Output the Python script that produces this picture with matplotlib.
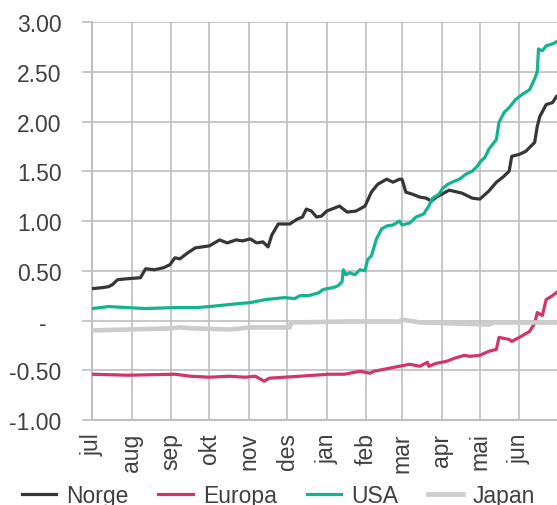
import numpy as np
import pandas as pd
import matplotlib
matplotlib.use('Agg')
import matplotlib.pyplot as plt
import matplotlib.dates as mdates
from matplotlib.transforms import ScaledTranslation

# days counted from 1 July
start = pd.Timestamp('2022-07-01')

norge_day = [0, 8, 13, 16, 20, 28, 38, 42, 49, 56, 61, 65, 69, 75, 81, 92, 100, 106, 113, 118,
             124, 129, 134, 138, 141, 146, 151, 155, 161, 165, 168, 172, 176, 180, 184, 194, 200,
             207, 214, 219, 224, 231, 236, 241, 243, 246, 251, 257, 262, 266, 270, 280, 290, 298,
             304, 311, 317, 322, 327, 329, 335, 340, 347, 349, 351, 356, 361, 364]
norge = [0.32, 0.33, 0.34, 0.36, 0.41, 0.42, 0.43, 0.52, 0.51, 0.53, 0.56, 0.63, 0.62, 0.68, 0.73,
         0.75, 0.81, 0.78, 0.81, 0.80, 0.82, 0.78, 0.79, 0.74, 0.86, 0.97, 0.97, 0.97, 1.02, 1.04,
         1.12, 1.10, 1.04, 1.05, 1.10, 1.15, 1.09, 1.10, 1.15, 1.29, 1.37, 1.42, 1.39, 1.42, 1.42,
         1.29, 1.27, 1.24, 1.23, 1.20, 1.24, 1.31, 1.28, 1.23, 1.22, 1.30, 1.39, 1.44, 1.50, 1.65,
         1.67, 1.70, 1.79, 1.95, 2.05, 2.17, 2.19, 2.25]

europa_day = [0, 28, 65, 77, 92, 108, 120, 128, 135, 139, 151, 163, 186, 198, 210, 218, 221, 229,
              241, 249, 257, 263, 264, 270, 278, 284, 292, 296, 304, 311, 317, 319, 327, 329, 335,
              343, 347, 349, 353, 356, 361, 364]
europa = [-0.54, -0.55, -0.54, -0.56, -0.57, -0.56, -0.57, -0.56, -0.61, -0.58, -0.57, -0.56,
          -0.54, -0.54, -0.51, -0.53, -0.51, -0.49, -0.46, -0.44, -0.46, -0.42, -0.46, -0.43,
          -0.41, -0.38, -0.35, -0.36, -0.35, -0.31, -0.29, -0.17, -0.19, -0.21, -0.17, -0.11,
          -0.03, 0.08, 0.05, 0.21, 0.25, 0.28]

usa_day = [0, 13, 42, 65, 82, 92, 115, 124, 136, 151, 159, 163, 170, 178, 181, 184, 189, 193, 196,
           197, 199, 202, 206, 210, 214, 216, 219, 223, 227, 231, 236, 241, 243, 249, 254, 260, 264,
           267, 272, 275, 279, 284, 288, 293, 298, 302, 304, 308, 311, 317, 319, 323, 327, 332, 337,
           343, 347, 349, 350, 353, 356, 361, 364]
usa = [0.12, 0.14, 0.12, 0.13, 0.13, 0.14, 0.17, 0.18, 0.21, 0.23, 0.22, 0.25, 0.25, 0.28, 0.31,
       0.32, 0.33, 0.35, 0.39, 0.51, 0.46, 0.48, 0.46, 0.51, 0.50, 0.61, 0.65, 0.82, 0.92, 0.95,
       0.96, 1.00, 0.96, 0.98, 1.04, 1.07, 1.15, 1.23, 1.27, 1.33, 1.37, 1.40, 1.42, 1.47, 1.50,
       1.55, 1.59, 1.64, 1.72, 1.82, 1.99, 2.09, 2.14, 2.22, 2.27, 2.32, 2.43, 2.50, 2.73, 2.71,
       2.76, 2.78, 2.80]

japan_day = [0, 28, 61, 69, 81, 108, 124, 155, 156, 200, 241, 243, 257, 311, 315, 364]
japan = [-0.10, -0.09, -0.08, -0.07, -0.08, -0.09, -0.07, -0.07, -0.02, -0.01, -0.01, 0.01,
         -0.02, -0.04, -0.02, -0.02]

months = ['jul', 'aug', 'sep', 'okt', 'nov', 'des', 'jan', 'feb', 'mar', 'apr', 'mai', 'jun']
yticks = [-1.0, -0.5, 0.0, 0.5, 1.0, 1.5, 2.0, 2.5, 3.0]
ylabels = ['-1.00', '-0.50', '-', '0.50', '1.00', '1.50', '2.00', '2.50', '3.00']

series = [('Norge', norge_day, norge, '#363636', 2.3),
          ('Europa', europa_day, europa, '#d1366a', 2.3),
          ('USA', usa_day, usa, '#14b38f', 2.3),
          ('Japan', japan_day, japan, '#cccccc', 3.3)]


def to_dates(days):
    return [start + pd.Timedelta(days=d) for d in days]


plt.rcParams['font.family'] = ['Liberation Sans', 'DejaVu Sans']
txt = '#404040'
grid = '#bfbfbf'

fig = plt.figure(figsize=(5.57, 5.06), dpi=100)
ax = fig.add_axes([92 / 557, 85 / 506, 465 / 557, 398 / 506])

for name, days, vals, col, lw in series:
    ax.plot(to_dates(days), vals, color=col, lw=lw, label=name, zorder=3)

month_starts = pd.date_range(start, periods=12, freq='MS')
ax.set_xticks(month_starts)
ax.set_xticklabels(months, rotation=90, fontsize=16.5, color=txt)
ax.set_xlim(start, start + pd.Timedelta(days=364.5))
ax.tick_params(axis='x', length=0, pad=9)

ax.set_ylim(-1, 3)
ax.set_yticks(yticks)
ax.set_yticklabels(ylabels, fontsize=16.5, color=txt)
ax.tick_params(axis='y', length=7, width=1.2, color=grid, pad=15)
# the zero label sits a digit further left, like Excel's accounting format
for lab in ax.get_yticklabels():
    if lab.get_text() == '-':
        lab.set_transform(lab.get_transform() + ScaledTranslation(-11 / 72, 0, fig.dpi_scale_trans))

ax.grid(True, color=grid, lw=1.2)
ax.set_axisbelow(True)
for s in ['top', 'right']:
    ax.spines[s].set_visible(False)
for s in ['left', 'bottom']:
    ax.spines[s].set_color(grid)
    ax.spines[s].set_linewidth(1.5)

fig.legend(loc='lower center', bbox_to_anchor=(0.5, -0.045), ncol=4, frameon=False,
           fontsize=16.5, handlelength=1.5, handletextpad=0.45, columnspacing=1.3,
           labelcolor=txt)

fig.savefig('out.png', dpi=100)
